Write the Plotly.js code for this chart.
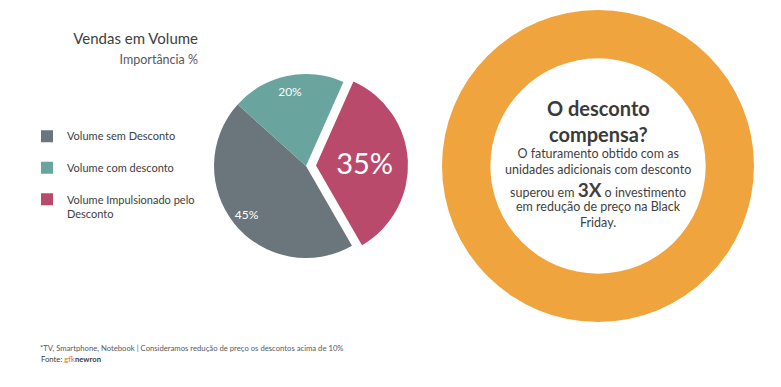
<!DOCTYPE html>
<html>
<head>
<meta charset="utf-8">
<script src="https://cdn.plot.ly/plotly-3.0.1.min.js"></script>
<style>html,body{margin:0;padding:0;background:#fff;}#chart{width:781px;height:387px;}</style>
</head>
<body>
<div id="chart"></div>
<script>
// ---- data ----
const categories = ['Volume sem Desconto', 'Volume com desconto', 'Volume Impulsionado pelo<br>Desconto'];
const shares = [45, 20, 35];
const sliceColors = ['#6b767c', '#6aa49e', '#b94a6b'];
const pulls = [0, 0, 0.109];
const ringLabel = ['O desconto compensa?'];
const ringValue = [100];
const titleText = 'Vendas em Volume';
const subtitleText = 'Importância %';
const calloutTitle = 'O desconto<br>compensa?';
const calloutBody1 = 'O faturamento obtido com as<br>unidades adicionais com desconto';
const calloutBody2 = 'superou em <b><span style="font-size:19px">3X</span></b> o investimento';
const calloutBody3 = 'em redução de preço na Black<br>Friday.';
const footnote = '*TV, Smartphone, Notebook | Consideramos redução de preço os descontos acima de 10%';
const sourceText = 'Fonte: <span style="color:#e8652c">gfk</span><b>newron</b>';

const W = 781, H = 387;
const px = v => v / W;
const py = v => 1 - v / H;

// legend labels padded to two lines so entries are spaced like the original
const legendLabels = categories.map(c => c.indexOf('<br>') >= 0 ? c : c + '<br>&nbsp;');

const pieDomain = {x: [px(204), px(408)], y: [py(268), py(64)]};
const common = {
  type: 'pie', labels: legendLabels, values: shares, sort: false,
  direction: 'clockwise', rotation: 150, pull: pulls, domain: pieDomain,
  textposition: 'inside', insidetextorientation: 'horizontal', hoverinfo: 'label+percent'
};

const traces = [
  Object.assign({}, common, {
    marker: {colors: sliceColors, line: {width: 0}},
    texttemplate: ['', '', '%{percent:.0%}'],
    textfont: {family: 'Lato', color: '#ffffff', size: [12, 12, 29]},
    showlegend: true
  }),
  Object.assign({}, common, {
    hole: 0.66,
    marker: {colors: ['rgba(0,0,0,0)', 'rgba(0,0,0,0)', 'rgba(0,0,0,0)'], line: {width: 0}},
    texttemplate: ['%{percent:.0%}', '%{percent:.0%}', ''],
    textfont: {family: 'Lato', color: '#ffffff', size: 12},
    showlegend: false, hoverinfo: 'skip'
  }),
  {
    type: 'pie', labels: ringLabel, values: ringValue, hole: 0.69,
    marker: {colors: ['#f0a43e'], line: {width: 0}},
    textinfo: 'none', hoverinfo: 'skip', showlegend: false, sort: false,
    domain: {x: [px(442), px(754)], y: [py(322), py(10)]}
  }
];

const cx = px(598);
const layout = {
  width: W, height: H,
  margin: {l: 0, r: 0, t: 0, b: 0},
  paper_bgcolor: '#ffffff', plot_bgcolor: '#ffffff',
  font: {family: 'Lato, "Open Sans", sans-serif', color: '#404040'},
  title: {
    text: titleText + '<br><span style="font-size:12.5px;color:#595959">' + subtitleText + '</span>',
    x: px(198), xanchor: 'right', xref: 'paper',
    y: py(44), yanchor: 'top', yref: 'paper',
    font: {family: 'Lato', size: 15, color: '#404040'}
  },
  legend: {
    x: px(27), xanchor: 'left', y: py(122.5), yanchor: 'top',
    valign: 'top', bgcolor: 'rgba(0,0,0,0)',
    font: {family: 'Lato', size: 11, color: '#404040'},
    traceorder: 'normal'
  },
  annotations: [
    {text: calloutTitle, x: cx, y: py(121), xref: 'paper', yref: 'paper', xanchor: 'center', yanchor: 'middle',
     showarrow: false, font: {family: 'Lato', size: 20, color: '#3a3a3a', weight: 'bold'}},
    {text: calloutBody1, x: cx, y: py(161.5), xref: 'paper', yref: 'paper', xanchor: 'center', yanchor: 'middle',
     showarrow: false, font: {family: 'Lato', size: 12.5, color: '#3f3f3f'}},
    {text: calloutBody2, x: cx, y: py(189), xref: 'paper', yref: 'paper', xanchor: 'center', yanchor: 'middle',
     showarrow: false, font: {family: 'Lato', size: 12.5, color: '#3f3f3f'}},
    {text: calloutBody3, x: cx, y: py(214.5), xref: 'paper', yref: 'paper', xanchor: 'center', yanchor: 'middle',
     showarrow: false, font: {family: 'Lato', size: 12.5, color: '#3f3f3f'}},
    {text: footnote, x: px(38), y: py(348), xref: 'paper', yref: 'paper', xanchor: 'left', yanchor: 'middle',
     showarrow: false, font: {family: 'Lato', size: 7.7, color: '#595959'}},
    {text: sourceText, x: px(39), y: py(359), xref: 'paper', yref: 'paper', xanchor: 'left', yanchor: 'middle',
     showarrow: false, font: {family: 'Lato', size: 7.7, color: '#404040'}}
  ]
};

Plotly.newPlot('chart', traces, layout, {displayModeBar: false, responsive: false});
</script>
</body>
</html>
